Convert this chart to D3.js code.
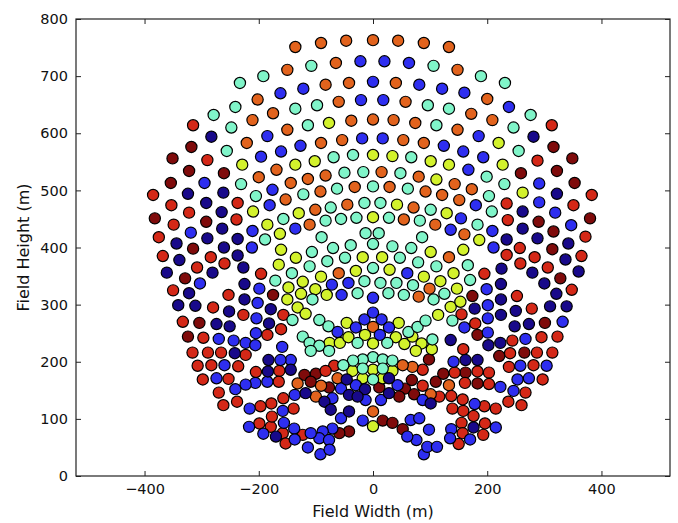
<!DOCTYPE html>
<html>
<head>
<meta charset="utf-8">
<script src="https://cdn.jsdelivr.net/npm/d3@7/dist/d3.min.js"></script>
<style>
  body { margin: 0; background: #fff; }
  svg text { font-family: "DejaVu Sans", sans-serif; fill: #111; }
</style>
</head>
<body>
<div id="chart"></div>
<script>
// heliostat positions [x, y] in metres, grouped by colour class
const darkRed = [
  [-318,576],[-351,556],[-322,534],[-261,530],[316,576],[349,556],[322,534],[259,530],
  [-354,513],[-382,451],[-292,445],[-315,398],[-329,346],[-304,268],[-324,244],
  [353,513],[290,445],[380,451],[316,428],[314,397],[328,346],[174,315],[301,268],[183,247],
  [-175,317],[-100,179],[-120,177],[-109,165],[-77,155],[11,155],[56,153],[68,168],[72,143],
  [110,165],[123,179],[98,204],[46,139],[17,97],[34,93],[52,82],[-42,78],[-59,75],
  [221,210],[265,216],[162,181],[183,162]
];
const red = [
  [-315,614],[-290,553],[313,614],[288,552],
  [-385,492],[-353,474],[-322,461],[-349,440],[-375,418],[-368,385],[-284,383],[-260,372],
  [-308,365],[-350,325],[-280,295],[-333,270],[-297,242],
  [383,492],[234,477],[351,474],[236,448],[372,419],[234,387],[257,399],[258,372],[283,383],
  [306,365],[365,385],[195,354],[252,315],[348,326],[278,293],[155,283],[179,267],[244,237],
  [295,243],[323,244],
  [-237,478],[-239,449],[-196,354],[-253,317],[-157,282],[-227,282],[-185,247],[-161,257],
  [-68,193],[-83,184],[87,158],[87,186],[116,139],
  [-123,72],[-158,75],[-179,86],[-199,92],[-153,57],
  [-316,216],[-289,216],[-266,216],[-307,193],[-283,194],[-298,169],[-270,146],[-262,124],
  [158,222],[240,215],[287,216],[314,216],[238,191],[281,194],[143,181],[183,183],[203,181],
  [297,169],[161,163],[203,161],[267,146],[137,140],[157,134],[195,122],[215,118],[237,130],
  [260,124],[139,118],[158,114],[176,105],[196,92],[155,93],[157,75],[193,72],[150,56],
  [-223,212],[-236,192],[-164,184],[-205,182],[-253,170],[-165,165],[-157,136],[-178,127],
  [-197,122],[-238,130],[-139,118],[-177,104]
];
const orange = [
  [-136,751],[-91,758],[-47,762],[0,763],[44,762],[89,758],[133,751],
  [-150,711],[-65,723],[148,711],
  [-202,659],[-83,685],[-42,688],[40,688],[200,660],
  [-211,623],[-175,635],[-60,655],[57,655],[172,634],[209,623],
  [-221,583],[-150,606],[-38,622],[0,624],[36,623],[74,618],[148,606],
  [-91,583],[-54,588],[53,588],[89,583],[-169,536],[15,532],
  [143,511],[173,502],[151,483],[160,423],
  [-200,523],[-114,520],[-83,526],[-144,513],[-153,484],[-92,498],[-32,506],[-101,466],
  [-45,475],[-111,440],[-60,355],
  [80,524],[29,506],[92,498],[121,492],[71,470],[54,449],[109,440],[133,383],[99,328],[80,314],
  [0,261],[-132,162],[-91,158],[-62,171],[101,143],[133,159],[69,191],[52,194],[-100,139],
  [0,113]
];
const yellow = [
  [-77,618],[220,583],[-229,545],[227,545],
  [-136,545],[-102,551],[0,562],[34,560],[101,551],[133,545],
  [262,496],[186,413],[158,396],[141,355],[147,328],[136,296],[153,305],
  [-210,463],[-130,460],[0,453],[-185,440],[-163,424],[-161,396],[-165,370],[-135,382],
  [-18,383],[-91,349],[-30,359],[-148,330],[-123,340],[-101,327],[-150,309],[-126,319],
  [-81,317],[-132,295],[-118,284],
  [111,519],[42,475],[129,460],[101,392],[16,383],[29,361],[89,349],[118,341],
  [-46,268],[45,268],[114,282],
  [-76,233],[-58,233],[-43,243],[-14,247],[0,232],[40,243],[55,231],[69,244],[85,232],
  [75,219],[103,222],
  [-36,184],[0,186],[34,184],[-18,171],[17,171],[0,87]
];
const aqua = [
  [-279,632],[-233,688],[-192,700],[-108,718],[106,718],[189,700],[231,688],
  [-241,646],[276,632],[-248,610],[-136,643],[-98,649],[96,649],[133,643],[246,610],
  [-256,569],[-114,614],[111,614],[255,569],[-69,558],[-35,562],[67,558],
  [-50,531],[-17,532],[48,530],
  [199,524],[230,511],[203,490],[208,463],[183,440],[166,369],[170,343],[139,272],
  [-231,511],[-205,490],[-122,493],[-63,503],[-74,470],[-15,478],[-157,450],[-83,447],
  [-56,450],[-29,452],[-189,414],[-90,418],[-13,425],[-107,392],[-70,399],[-39,404],[0,406],
  [-111,367],[-80,376],[-49,382],[-142,355],[0,364],[-171,342],[-15,341],[-106,309],
  [-27,320],[-141,273],
  [0,507],[61,503],[13,478],[101,466],[28,452],[82,447],[10,425],[86,418],[34,402],[67,399],
  [47,382],[79,374],[111,367],[13,338],[41,338],[70,334],[125,319],[54,317],[106,309],[27,320],
  [-94,273],[-78,262],[62,252],[78,261],[92,272],
  [-123,244],[-111,233],[-94,228],[-27,233],[25,233],[104,239],[-109,219],[-77,219],
  [0,208],[-18,204],[17,204],[-35,202],[34,202],[-52,194],[-18,188],[17,188],[0,169]
];
const blue = [
  [-22,726],[20,726],[63,723],
  [-162,670],[-122,678],[0,690],[81,685],[121,678],[160,671],[238,646],
  [-21,658],[18,658],[-185,595],[185,595],
  [-196,559],[-161,568],[-127,578],[-19,591],[17,591],[124,578],[158,568],[193,558],[167,536],
  [-295,513],[-319,426],[-303,337],[-270,240],
  [291,512],[291,479],[180,474],[319,461],[347,439],[154,451],[136,431],[209,429],[211,400],
  [199,327],[201,299],[201,276],[332,270],[160,260],[201,251],[267,240],
  [-176,501],[-181,474],[-211,429],[-136,433],[-212,400],[-199,328],[-72,335],[-43,338],
  [-202,303],[-55,317],[-204,276],[-205,250],[-244,237],[-223,233],
  [60,355],[0,312],
  [-62,252],[-30,260],[-15,274],[0,286],[15,274],[28,260],[12,247],
  [-30,159],[43,159],[-71,136],[-56,153],[-13,133],[14,133],[87,133],
  [-56,101],[-18,97],[66,98],[81,101],[-71,83],[-88,78],[-94,66],[-77,63],[-109,75],
  [-138,83],[-217,86],[98,81],[-92,38],[-114,50],[-76,46],[89,38],[95,51],[112,51],[76,63],
  [60,69],[-137,64],
  [-260,194],[-274,171],
  [141,200],[258,193],[304,193],[253,169],[273,171],[223,156],[246,149],[178,126],[137,82],
  [170,64],[135,66],[215,85],
  [-159,226],[-206,229],[-144,203],[-162,203],[-185,165],[-206,163],[-223,160],[-241,152],
  [-137,142],[-216,118],[-158,114],[-156,93],[-192,74]
];
const darkBlue = [
  [-283,594],[281,594],
  [-324,494],[-262,496],[-292,478],[-265,462],[-264,433],[-290,416],[-344,407],[-261,400],
  [-339,378],[-361,356],[-281,356],[-322,320],[-341,299],[-311,298],[-274,266],
  [322,494],[262,463],[234,414],[262,433],[288,416],[342,407],[337,379],[225,363],[279,356],
  [360,358],[224,336],[300,337],[321,319],[178,293],[224,309],[250,289],[310,297],[339,297],
  [224,282],[248,262],[273,266],[223,233],[136,238],
  [-237,415],[-237,386],[-227,365],[-225,336],[-225,309],[-179,292],[-252,288],[-182,267],
  [-251,262],
  [-46,169],[-14,152],[28,171],[-118,145],[-85,130],[-42,142],[-27,139],[28,145],[101,127],
  [-74,116],[-42,113],[-170,69],
  [202,229],[162,203],[183,203],[176,85],
  [-242,215],[-183,203],[-144,186],[-184,183]
];

const xTicks = [-400, -200, 0, 200, 400];
const yTicks = [0, 100, 200, 300, 400, 500, 600, 700, 800];

/**
 * Draw the field scatter
 */
function drawChart() {
  const SVG_WIDTH = 678;
  const SVG_HEIGHT = 523;
  const margin = { top: 19, right: 8, bottom: 47, left: 76 };
  const width = SVG_WIDTH - margin.left - margin.right;
  const height = SVG_HEIGHT - margin.top - margin.bottom;

  const groups = [
    { color: '#7f0b0b', points: darkRed },
    { color: '#d42817', points: red },
    { color: '#e2631d', points: orange },
    { color: '#d3f22c', points: yellow },
    { color: '#80f5c9', points: aqua },
    { color: '#2e2ef0', points: blue },
    { color: '#18098a', points: darkBlue }
  ];

  const svg = d3.select('#chart').append('svg')
    .attr('width', SVG_WIDTH)
    .attr('height', SVG_HEIGHT);
  const g = svg.append('g')
    .attr('transform', `translate(${margin.left},${margin.top})`);

  const x = d3.scaleLinear().domain([-520, 520]).range([0, width]);
  const y = d3.scaleLinear().domain([0, 800]).range([height, 0]);

  // points
  groups.forEach(grp => {
    g.append('g').selectAll('circle')
      .data(grp.points)
      .join('circle')
        .attr('cx', d => x(d[0]))
        .attr('cy', d => y(d[1]))
        .attr('r', 5.6)
        .attr('fill', grp.color)
        .attr('stroke', '#000')
        .attr('stroke-width', 1.2);
  });

  // axes, ticks pointing inward on all four sides
  g.append('g')
    .attr('transform', `translate(0,${height})`)
    .call(d3.axisBottom(x).tickValues(xTicks).tickSize(-5).tickPadding(8));
  g.append('g')
    .call(d3.axisLeft(y).tickValues(yTicks).tickSize(-5).tickPadding(8));
  g.append('g')
    .call(d3.axisTop(x).tickValues(xTicks).tickSize(-5).tickFormat(''));
  g.append('g')
    .attr('transform', `translate(${width},0)`)
    .call(d3.axisRight(y).tickValues(yTicks).tickSize(-5).tickFormat(''));

  g.selectAll('.domain').remove();
  g.selectAll('.tick line').attr('stroke', '#222').attr('stroke-width', 1);
  g.selectAll('.tick text').attr('font-size', 14.5).attr('fill', '#111');

  g.append('rect')
    .attr('width', width)
    .attr('height', height)
    .attr('fill', 'none')
    .attr('stroke', '#222')
    .attr('stroke-width', 1.2);

  // labels
  svg.append('text')
    .attr('x', margin.left + width / 2)
    .attr('y', 517)
    .attr('text-anchor', 'middle')
    .attr('font-size', 16)
    .text('Field Width (m)');
  svg.append('text')
    .attr('transform', `translate(29,${margin.top + height / 2}) rotate(-90)`)
    .attr('text-anchor', 'middle')
    .attr('font-size', 16)
    .text('Field Height (m)');
}

(function main() {
  drawChart();
})();
</script>
</body>
</html>
